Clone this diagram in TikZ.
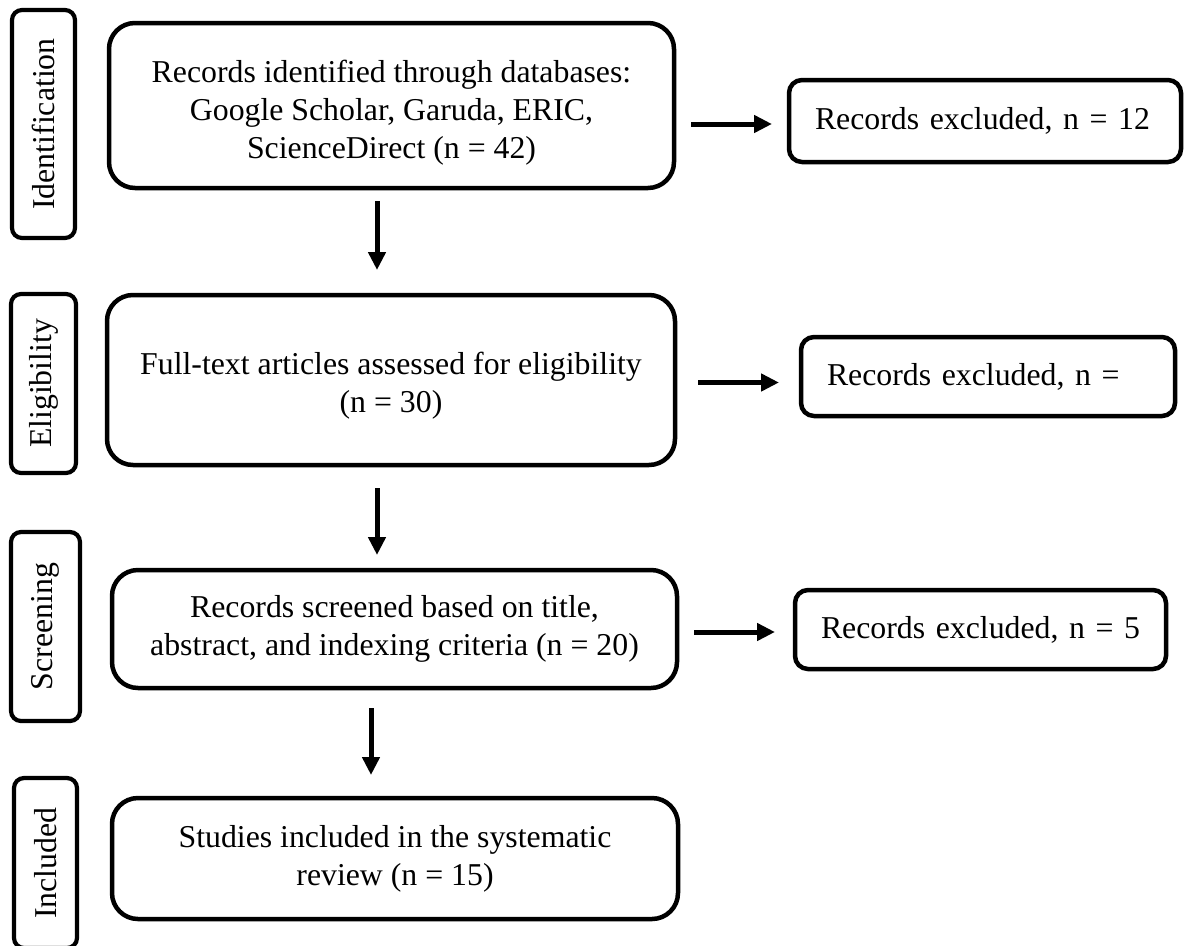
\documentclass[tikz,border=0pt]{standalone}
\usepackage{fontspec}
\setmainfont{Liberation Serif}
\frenchspacing
\usetikzlibrary{arrows.meta,calc}
\newcommand{\lowered}[2]{\raisebox{-#1}[\height][\depth]{\begin{tabular}{@{}c@{}}#2\end{tabular}}}
\begin{document}
\begin{tikzpicture}[x=1pt,y=-1pt,
  every node/.style={font=\fontsize{31.8}{38}\selectfont, inner sep=0pt, outer sep=0pt},
  mainbox/.style={draw, line width=4.5pt, rounded corners=26pt, align=center},
  exclbox/.style={draw, line width=4.5pt, rounded corners=13pt, align=left, inner xsep=26pt},
  sidebox/.style={draw, line width=4.2pt, rounded corners=10pt, rotate=90},
  arr/.style={line width=5pt, -{Triangle[length=18pt,width=17pt]}}]
\useasboundingbox (0,0) rectangle (1185,945);
\clip (0,0) rectangle (1185,945);
\fill[white] (0,0) rectangle (1185,945);
% side labels
\node[sidebox, minimum width=228pt, minimum height=63pt] (sid) at (43.5,124) {Identification};
\node[sidebox, minimum width=179pt, minimum height=65pt] (sel) at (43.5,383.5) {Eligibility};
\node[sidebox, minimum width=189pt, minimum height=69pt] (ssc) at (45.5,626.5) {Screening};
\node[sidebox, minimum width=170pt, minimum height=63pt] (sin) at (45.5,863) {Included};
% main boxes
\node[mainbox, minimum width=565pt, minimum height=165pt] (b1) at (391.5,105.5)
  {\lowered{7pt}{Records identified through databases:\\Google Scholar, Garuda, ERIC,\\ScienceDirect (n = 42)}};
\node[mainbox, minimum width=568pt, minimum height=170pt] (b2) at (391,380)
  {\lowered{6pt}{Full-text articles assessed for eligibility\\(n = 30)}};
\node[mainbox, minimum width=565pt, minimum height=118pt] (b3) at (394.5,629)
  {Records screened based on title,\\abstract, and indexing criteria (n = 20)};
\node[mainbox, minimum width=566pt, minimum height=121pt] (b4) at (395,858.5)
  {Studies included in the systematic\\review (n = 15)};
% exclusion boxes
\node[exclbox, text width=340pt, minimum height=82pt] (e1) at (985,121) {\mbox{Records excluded, n = 12}};
\node[exclbox, text width=322pt, minimum height=79pt] (e2) at (988,376.5) {\mbox{Records excluded, n =}};
\node[exclbox, text width=319pt, minimum height=79pt] (e3) at (980.5,629.5) {\mbox{Records excluded, n = 5}};
% arrows right
\draw[arr] ($(b1.east |- e1.west)+(17,3)$) -- ($(e1.west)+(-17,3)$);
\draw[arr] ($(b2.east |- e2.west)+(23,6)$) -- ($(e2.west)+(-22,6)$);
\draw[arr] ($(b3.east |- e3.west)+(17,2.5)$) -- ($(e3.west)+(-20,2.5)$);
% arrows down
\draw[arr] ($(b1.south)+(-14.5,13)$) -- ($(b2.north)+(-14,-25)$);
\draw[arr] ($(b2.south)+(-14,23)$) -- ($(b3.north)+(-17.5,-15)$);
\draw[arr] ($(b3.south)+(-23.5,20)$) -- ($(b4.north)+(-24,-23)$);
\end{tikzpicture}
\end{document}
